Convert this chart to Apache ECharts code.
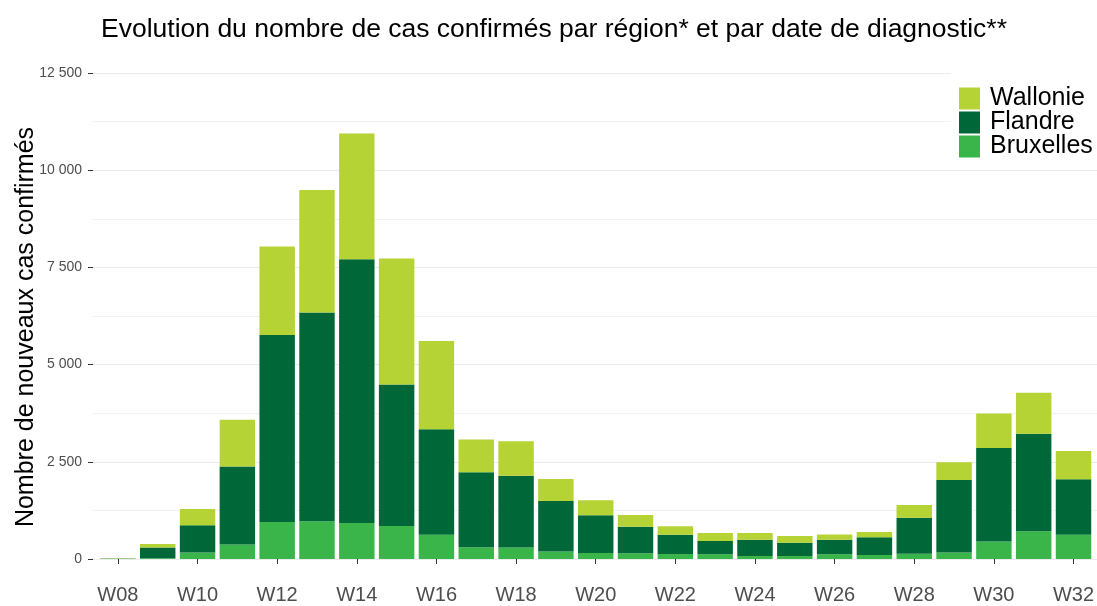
<!DOCTYPE html>
<html>
<head>
<meta charset="utf-8">
<script src="https://cdn.jsdelivr.net/npm/echarts@6/dist/echarts.min.js"></script>
<style>
html, body { margin: 0; padding: 0; background: #fff; }
#chart { width: 1097px; height: 606px; }
</style>
</head>
<body>
<div id="chart"></div>
<script>
// semaines
var weeks = ['W08', 'W09', 'W10', 'W11', 'W12', 'W13', 'W14', 'W15', 'W16', 'W17', 'W18', 'W19', 'W20',
             'W21', 'W22', 'W23', 'W24', 'W25', 'W26', 'W27', 'W28', 'W29', 'W30', 'W31', 'W32'];

// cas par région
var bruxelles = [5, 20, 165, 375, 951, 969, 924, 850, 622, 302, 293, 192, 155,
                 146, 128, 119, 80, 75, 120, 100, 137, 165, 448, 713, 622];
var flandre = [10, 273, 704, 2002, 4810, 5368, 6784, 3640, 2716, 1929, 1847, 1298, 970,
               686, 494, 347, 414, 346, 374, 458, 924, 1865, 2405, 2506, 1426];
var wallonie = [3, 91, 420, 1207, 2277, 3155, 3237, 3237, 2267, 841, 887, 567, 384,
                302, 219, 202, 174, 173, 137, 137, 329, 457, 887, 1060, 732];

var yTicks = [0, 2500, 5000, 7500, 10000, 12500];

var fontFam = '"Liberation Sans", Arial, sans-serif';

function fmt(v) {
    return String(v).replace(/\B(?=(\d{3})+(?!\d))/g, ' ');
}

var chart = echarts.init(document.getElementById('chart'));

var option = {
    animation: false,
    textStyle: { fontFamily: fontFam },
    title: {
        text: 'Evolution du nombre de cas confirmés par région* et par date de diagnostic**',
        left: 96,
        top: 11,
        textStyle: { fontSize: 26.5, fontWeight: 'normal', color: '#000', fontFamily: fontFam }
    },
    color: ['#39b54a', '#006838', '#b5d334'],
    legend: {
        orient: 'vertical',
        left: 951,
        top: 62,
        padding: [24, 15, 6, 8],
        backgroundColor: '#fff',
        itemWidth: 21,
        itemHeight: 22,
        itemGap: -1,
        icon: 'rect',
        data: ['Wallonie', 'Flandre', 'Bruxelles'],
        textStyle: { fontSize: 25, lineHeight: 22, color: '#000', padding: [0, 0, 0, 5], fontFamily: fontFam }
    },
    // grille 0 : lignes de fond et axe y ; grille 1 : barres
    grid: [
        { left: 93, right: 0, top: 73, bottom: 47 },
        { left: 98, right: 0, top: 73, bottom: 47 }
    ],
    xAxis: [
        {
            type: 'category',
            gridIndex: 0,
            data: weeks,
            show: false
        },
        {
            type: 'category',
            gridIndex: 1,
            data: weeks,
            offset: 19,
            axisLine: { show: false },
            axisTick: { show: true, interval: 1, alignWithLabel: true, length: 5, lineStyle: { color: '#333' } },
            axisLabel: { interval: 1, fontSize: 20, color: '#4d4d4d', margin: 7 }
        }
    ],
    yAxis: [
        {
            type: 'value',
            gridIndex: 0,
            min: yTicks[0],
            max: yTicks[yTicks.length - 1],
            interval: 2500,
            name: 'Nombre de nouveaux cas confirmés',
            nameLocation: 'middle',
            nameGap: 54,
            nameMoveOverlap: false,
            nameTextStyle: { fontSize: 25, color: '#000', padding: [0, 22, 0, 0] },
            axisLine: { show: false },
            axisTick: { show: true, length: 5, lineStyle: { color: '#333' } },
            axisLabel: { fontSize: 14, color: '#4d4d4d', margin: 11, formatter: fmt },
            splitLine: { lineStyle: { color: '#ebebeb', width: 1 } },
            minorTick: { show: false, splitNumber: 2 },
            minorSplitLine: { show: true, lineStyle: { color: '#f2f2f2', width: 1 } }
        },
        {
            type: 'value',
            gridIndex: 1,
            min: yTicks[0],
            max: yTicks[yTicks.length - 1],
            interval: 2500,
            show: false,
            splitLine: { show: false }
        }
    ],
    series: [
        { name: 'Bruxelles', type: 'bar', stack: 'cas', xAxisIndex: 1, yAxisIndex: 1, data: bruxelles, barCategoryGap: '11%' },
        { name: 'Flandre', type: 'bar', stack: 'cas', xAxisIndex: 1, yAxisIndex: 1, data: flandre, barCategoryGap: '11%' },
        { name: 'Wallonie', type: 'bar', stack: 'cas', xAxisIndex: 1, yAxisIndex: 1, data: wallonie, barCategoryGap: '11%' }
    ]
};

chart.setOption(option);
</script>
</body>
</html>
